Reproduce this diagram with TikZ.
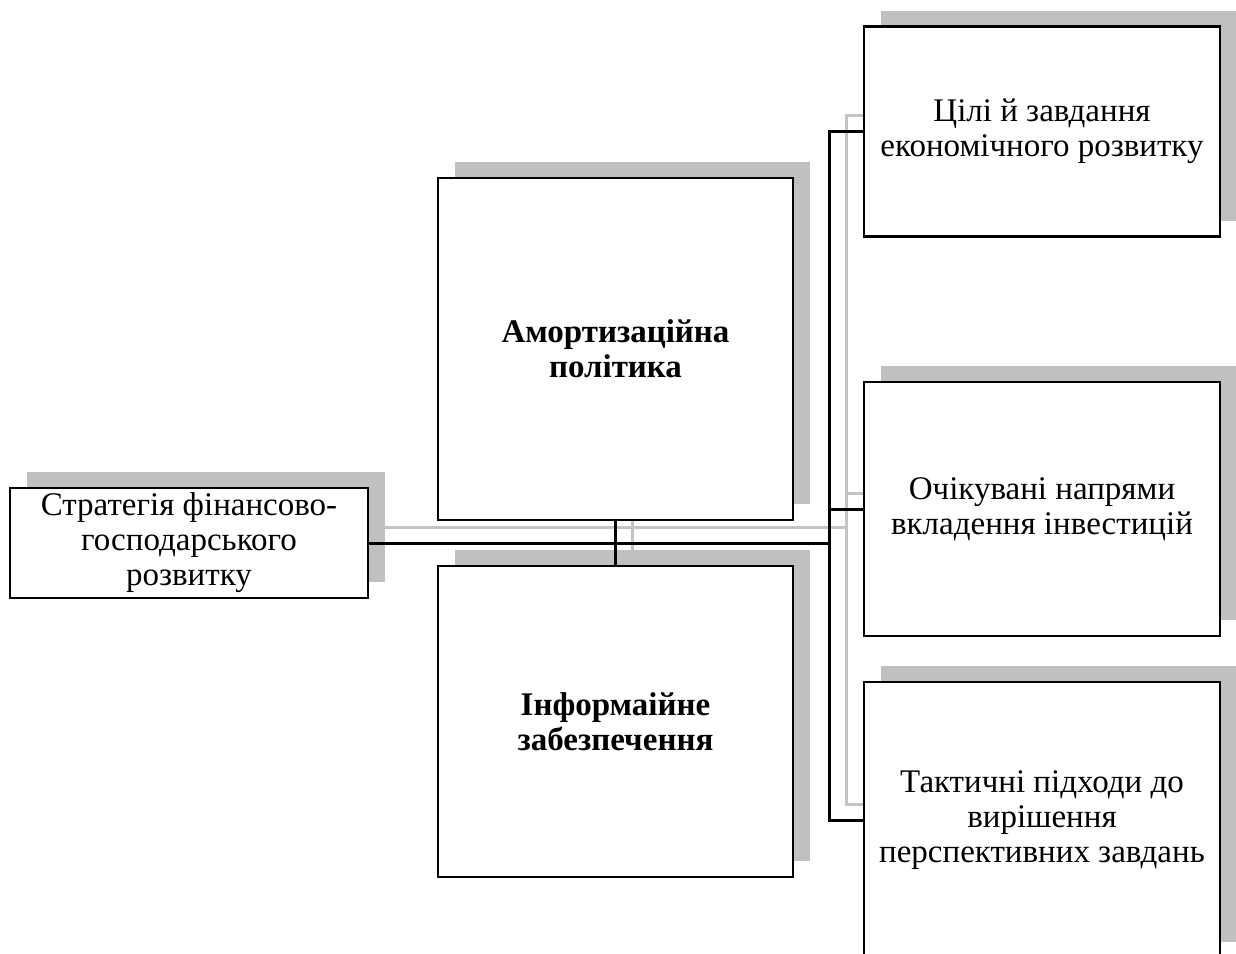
\documentclass[tikz,border=0pt]{standalone}
\usepackage{fontspec}
\setmainfont{Liberation Serif}
\usetikzlibrary{shadows,backgrounds,calc}
\definecolor{shadowgray}{HTML}{C0C0C0}
\definecolor{lineshadow}{HTML}{C4C4C4}
\tikzset{
  box/.style={draw=black, line width=2.4pt, fill=white, rectangle, inner sep=0pt,
    align=center, font=\fontsize{33}{35}\selectfont,
    general shadow={shadow xshift=17pt, shadow yshift=16pt, fill=shadowgray, draw=none}},
  boldbox/.style={box, font=\fontsize{33}{35}\selectfont\bfseries},
  conn/.style={draw=black, line width=3pt, line cap=rect},
  connshadow/.style={draw=lineshadow, line width=3pt, line cap=rect},
}
\begin{document}
\begin{tikzpicture}[x=1pt,y=-1pt]
\useasboundingbox (0,0) rectangle (1236,953);
\node[box, minimum width=358pt, minimum height=110pt] (L) at (189,543) {Стратегія фінансово-\\господарського\\розвитку};
\node[boldbox, minimum width=355pt, minimum height=342pt] (A) at (615.5,349) {Амортизаційна\\політика};
\node[boldbox, minimum width=355pt, minimum height=311pt] (I) at (615.5,721.5) {Інформаійне\\забезпечення};
\node[box, minimum width=356pt, minimum height=210pt] (R1) at (1042,131.5) {Цілі й завдання\\економічного розвитку};
\node[box, minimum width=356pt, minimum height=254pt] (R2) at (1042,509) {Очікувані напрями\\вкладення інвестицій};
\node[box, minimum width=356pt, minimum height=276pt] (R3) at (1042,820) {Тактичні підходи до\\вирішення\\перспективних завдань};
\coordinate (J) at (829,543);
\coordinate (J1) at (R1.west -| J);
\coordinate (J2) at (R2.west -| J);
\coordinate (J3) at (R3.west -| J);
\begin{scope}[on background layer]
  \draw[connshadow] ([xshift=17pt,yshift=16pt]L.east) -- ([xshift=17pt,yshift=16pt]J);
  \draw[connshadow] ([xshift=17pt,yshift=16pt]J1) -- ([xshift=17pt,yshift=16pt]J3);
  \draw[connshadow] ([xshift=17pt,yshift=16pt]J1) -- ([xshift=17pt,yshift=16pt]R1.west);
  \draw[connshadow] ([xshift=17pt,yshift=16pt]J2) -- ([xshift=17pt,yshift=16pt]R2.west);
  \draw[connshadow] ([xshift=17pt,yshift=16pt]J3) -- ([xshift=17pt,yshift=16pt]R3.west);
  \draw[connshadow] ([xshift=17pt,yshift=16pt]A.south) -- ([xshift=17pt,yshift=16pt]I.north);
\end{scope}
\draw[conn] (L.east) -- (J);
\draw[conn] (J1) -- (J3);
\draw[conn] (J1) -- (R1.west);
\draw[conn] (J2) -- (R2.west);
\draw[conn] (J3) -- (R3.west);
\draw[conn] (A.south) -- (I.north);
\end{tikzpicture}
\end{document}
